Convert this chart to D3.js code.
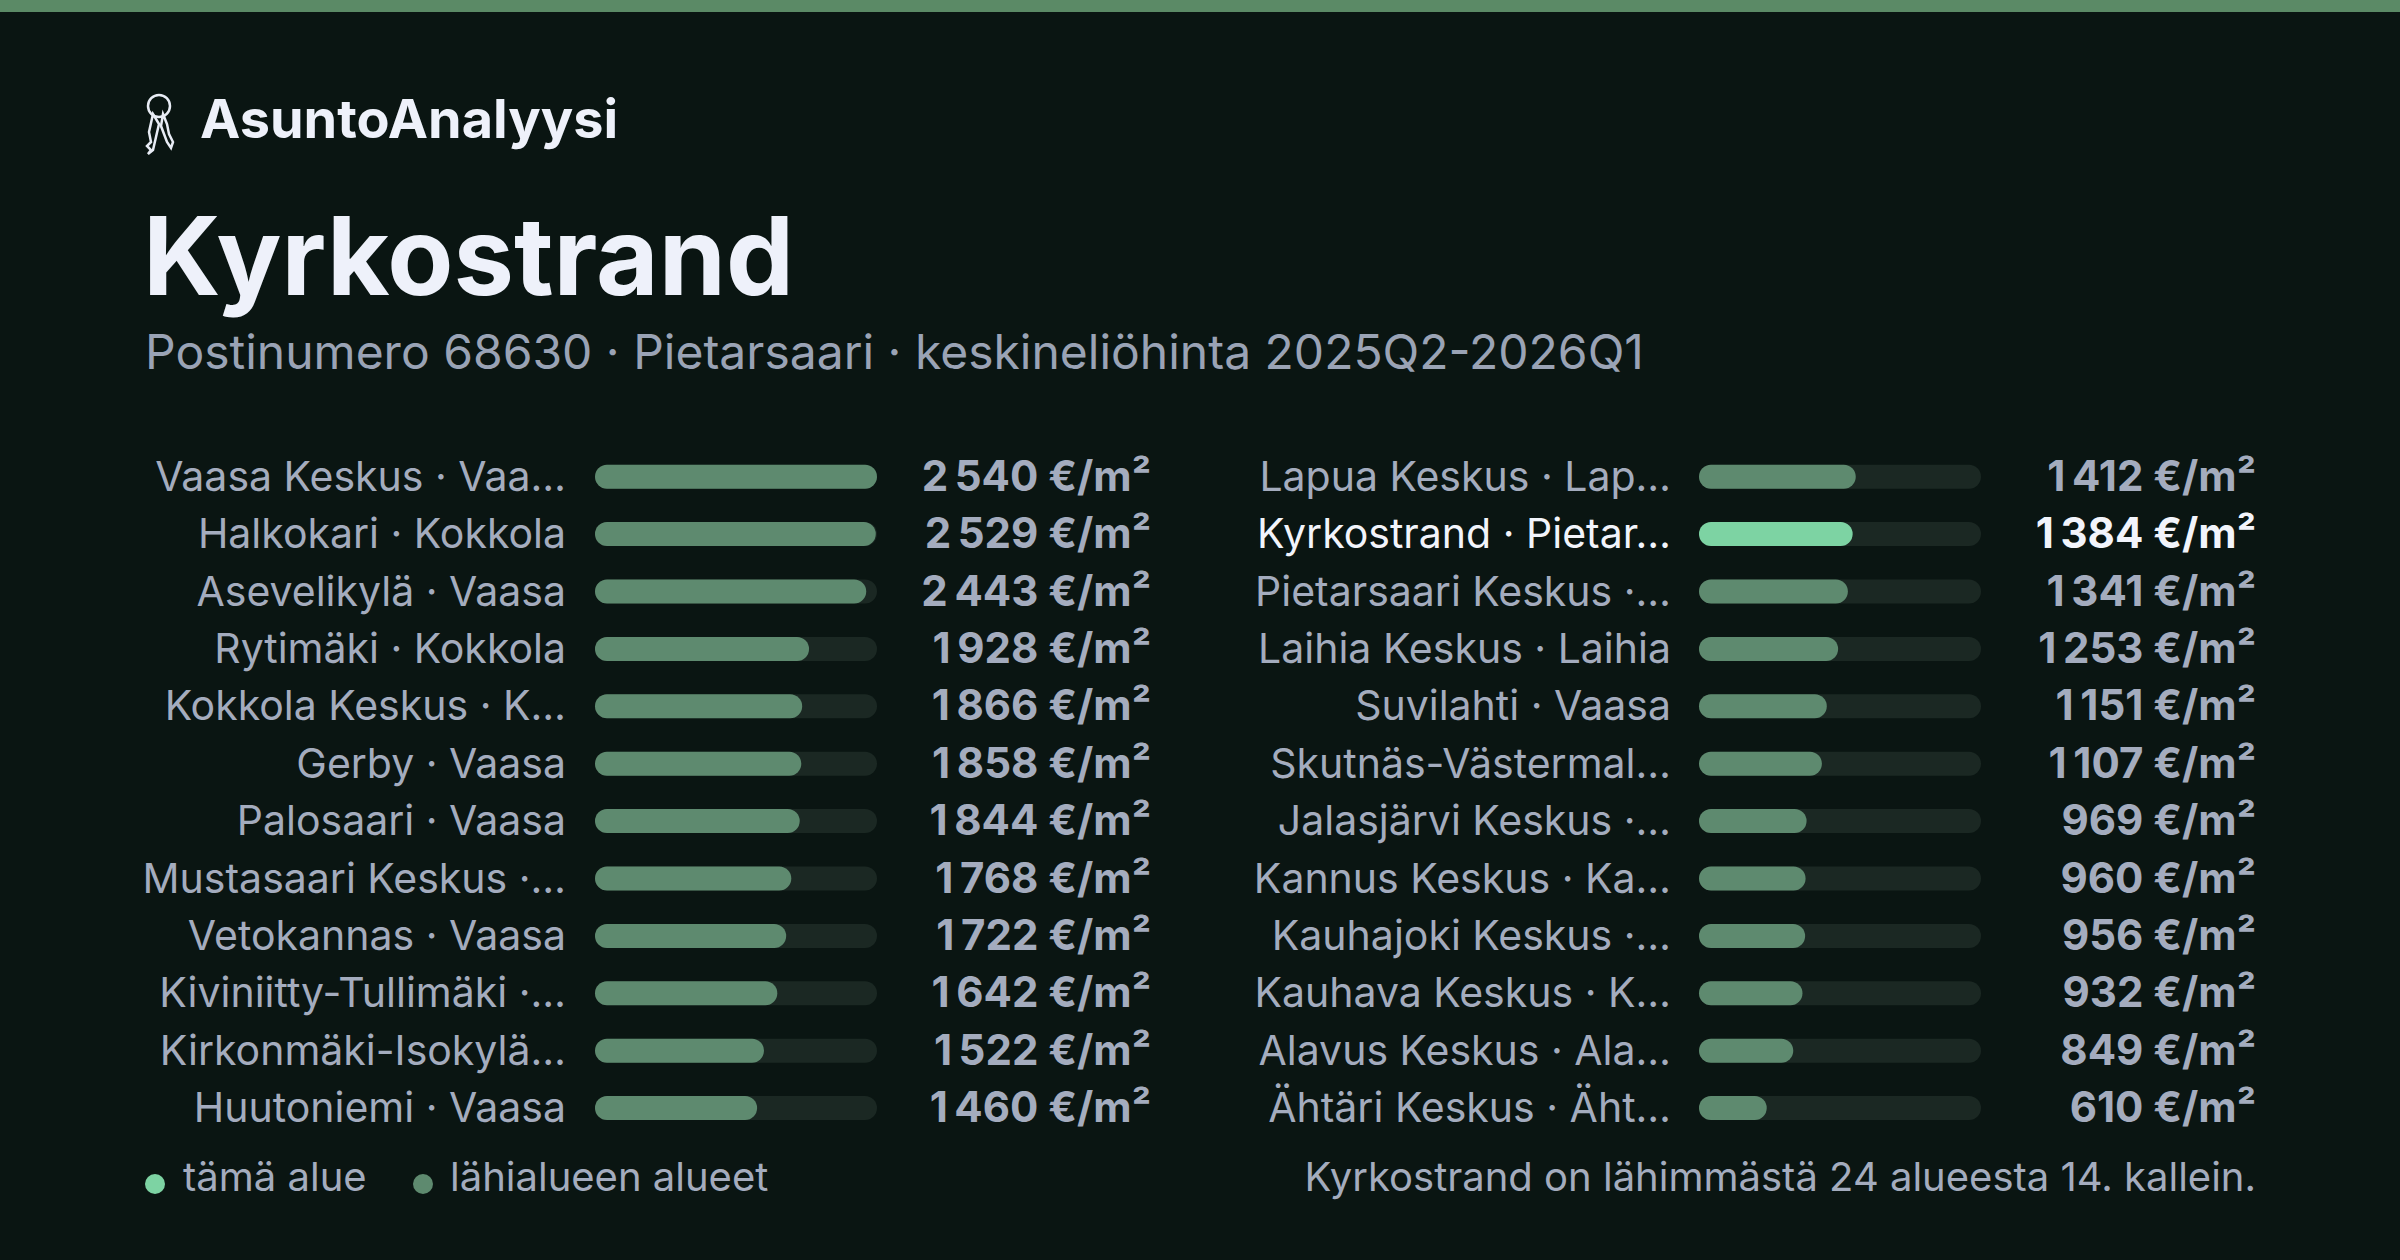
<!doctype html>
<html>
<head>
<meta charset="utf-8">
<title>Kyrkostrand</title>
<script src="https://d3js.org/d3.v7.min.js"></script>
<style>
body { margin:0; background:#0a1512; }
text { font-family: Inter, "Noto Sans", sans-serif; }
</style>
</head>
<body>
<svg id="chart" width="2400" height="1260"></svg>
<script>
const leftNames = ["Vaasa Keskus · Vaa…", "Halkokari · Kokkola", "Asevelikylä · Vaasa", "Rytimäki · Kokkola", "Kokkola Keskus · K…", "Gerby · Vaasa", "Palosaari · Vaasa", "Mustasaari Keskus ·…", "Vetokannas · Vaasa", "Kiviniitty-Tullimäki ·…", "Kirkonmäki-Isokylä…", "Huutoniemi · Vaasa"];
const leftValues = [2540, 2529, 2443, 1928, 1866, 1858, 1844, 1768, 1722, 1642, 1522, 1460];
const rightNames = ["Lapua Keskus · Lap…", "Kyrkostrand · Pietar…", "Pietarsaari Keskus ·…", "Laihia Keskus · Laihia", "Suvilahti · Vaasa", "Skutnäs-Västermal…", "Jalasjärvi Keskus ·…", "Kannus Keskus · Ka…", "Kauhajoki Keskus ·…", "Kauhava Keskus · K…", "Alavus Keskus · Ala…", "Ähtäri Keskus · Äht…"];
const rightValues = [1412, 1384, 1341, 1253, 1151, 1107, 969, 960, 956, 932, 849, 610];
const highlight = "Kyrkostrand · Pietar…";

const svg = d3.select("#chart");
svg.append("rect").attr("width", 2400).attr("height", 1260).attr("fill", "#0a1512");
svg.append("rect").attr("width", 2400).attr("height", 12).attr("fill", "#5b8a66");

// logo keys
const key = svg.append("g").attr("transform", "translate(145,92)")
  .attr("fill", "none").attr("stroke", "#e8ecf5").attr("stroke-width", 2.5);
key.append("circle").attr("cx", 14).attr("cy", 14).attr("r", 11);
key.append("path").attr("d", "M8,22 L4,40 L6,50 L2,54 L6,58 L3,62 L8,58 L14,32 Z");
key.append("path").attr("d", "M18,22 L22,32 L24,42 L28,50 L26,56 L22,50 L16,34 Z");
svg.append("text").attr("x", 200).attr("y", 138).attr("font-size", 54).attr("font-weight", 700)
  .attr("fill", "#eef1fa").text("AsuntoAnalyysi");

svg.append("text").attr("x", 143).attr("y", 295).attr("font-size", 108).attr("font-weight", 700)
  .attr("fill", "#eef1fa").text("Kyrkostrand");
svg.append("text").attr("x", 145).attr("y", 369).attr("font-size", 48)
  .attr("fill", "#9aa3b5").text("Postinumero 68630 · Pietarsaari · keskineliöhinta 2025Q2-2026Q1");

const maxV = d3.max(leftValues.concat(rightValues));
const fmt = v => d3.format(",")(v).replace(/,/g, "\u2009") + " €/m²";
const y = d3.scaleBand().domain(d3.range(12)).range([448, 448 + 12 * 57.4]);

function column(names, values, labelX, barX, barW, valueX) {
  const x = d3.scaleLinear().domain([0, maxV]).range([0, barW]);
  const g = svg.append("g");
  const rows = g.selectAll("g").data(names.map((n, i) => ({n, v: values[i]})))
    .join("g").attr("transform", (d, i) => `translate(0,${y(i) + y.bandwidth() / 2})`);
  rows.append("text").attr("x", labelX).attr("y", 14).attr("text-anchor", "end")
    .attr("font-size", 41).attr("fill", d => d.n === highlight ? "#f2f4fb" : "#a4acbe").text(d => d.n);
  rows.append("rect").attr("x", barX).attr("y", -12).attr("width", barW).attr("height", 24)
    .attr("rx", 12).attr("fill", "#1b2823");
  rows.append("rect").attr("x", barX).attr("y", -12).attr("width", d => x(d.v)).attr("height", 24)
    .attr("rx", 12).attr("fill", d => d.n === highlight ? "#7dd3a3" : "#5e8a6f");
  rows.append("text").attr("x", valueX).attr("y", 14).attr("text-anchor", "end")
    .attr("font-size", 42).attr("font-weight", 700)
    .attr("fill", d => d.n === highlight ? "#f2f4fb" : "#a4acbe").text(d => fmt(d.v));
}
column(leftNames, leftValues, 566, 595, 282, 1151);
column(rightNames, rightValues, 1671, 1699, 282, 2256);

svg.append("circle").attr("cx", 155).attr("cy", 1184).attr("r", 10).attr("fill", "#7dd3a3");
svg.append("text").attr("x", 183).attr("y", 1191).attr("font-size", 40).attr("fill", "#a4acbe").text("tämä alue");
svg.append("circle").attr("cx", 423).attr("cy", 1184).attr("r", 10).attr("fill", "#5e8a6f");
svg.append("text").attr("x", 450).attr("y", 1191).attr("font-size", 40).attr("fill", "#a4acbe").text("lähialueen alueet");
svg.append("text").attr("x", 2256).attr("y", 1191).attr("text-anchor", "end").attr("font-size", 40)
  .attr("fill", "#a4acbe").text("Kyrkostrand on lähimmästä 24 alueesta 14. kallein.");
</script>
</body>
</html>
